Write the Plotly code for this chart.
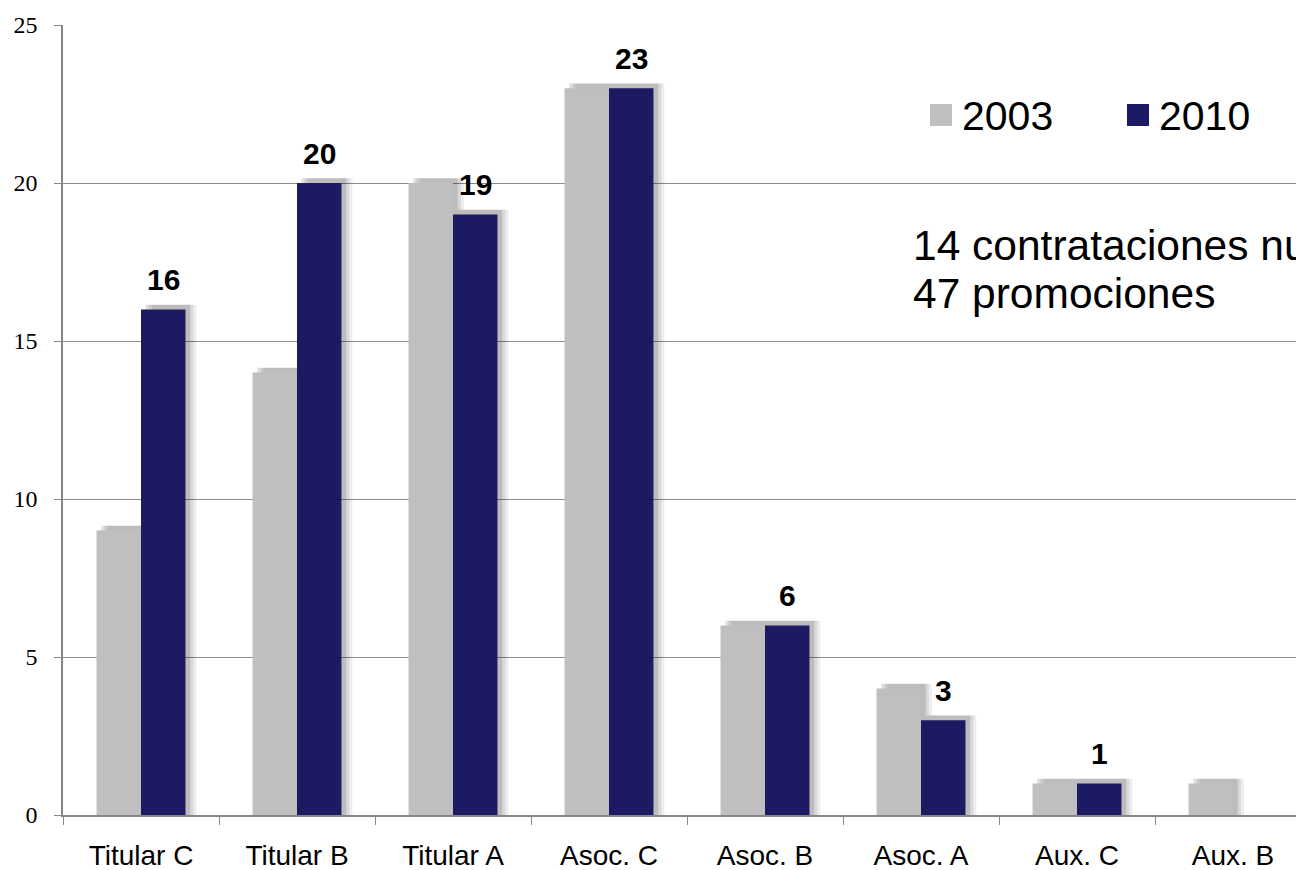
import plotly.graph_objects as go

categories = ["Titular C", "Titular B", "Titular A", "Asoc. C", "Asoc. B", "Asoc. A", "Aux. C", "Aux. B"]
values_2003 = [9, 14, 20, 23, 6, 4, 1, 1]
values_2010 = [16, 20, 19, 23, 6, 3, 1, 0]
y_ticks = [0, 5, 10, 15, 20, 25]
note_lines = ["14 contrataciones nuevas", "47 promociones"]

GRAY = "#BFBFBF"
NAVY = "#1C1A63"
W, H = 1296, 870
L, R, T, B = 63, 0, 25, 55
bw = 0.285

# pixel -> paper helpers for the free-floating items
def px(x):
    return (x - L) / (W - L - R)

def py(y):
    return (H - B - y) / (H - T - B)

fig = go.Figure()

# soft shadows behind the bars (stacked layers fake a blur)
for vals, off in [(values_2003, -bw), (values_2010, 0)]:
    for shift, alpha in [(0.07, 0.07), (0.05, 0.09), (0.03, 0.12)]:
        fig.add_trace(go.Bar(
            x=categories, y=[v + 0.15 if v > 0 else 0 for v in vals],
            width=bw, offset=off + shift, marker=dict(color=f"rgba(0,0,0,{alpha})", line_width=0),
            showlegend=False, hoverinfo="skip"))

fig.add_trace(go.Bar(x=categories, y=values_2003, name="2003", width=bw, offset=-bw,
                     marker=dict(color=GRAY, line_width=0)))
fig.add_trace(go.Bar(x=categories, y=values_2010, name="2010", width=bw, offset=0,
                     marker=dict(color=NAVY, line_width=0)))

# value labels above the 2010 bars
for i, (c, v) in enumerate(zip(categories, values_2010)):
    if v > 0:
        fig.add_annotation(x=i + bw / 2, y=v, text=str(v), showarrow=False, yanchor="middle", yshift=30,
                           font=dict(family="Liberation Sans, Arial", size=30, color="black", weight="bold"))

# legend drawn by hand to match the large squares
for (x0, col, lab) in [(930, GRAY, "2003"), (1127, NAVY, "2010")]:
    fig.add_shape(type="rect", xref="paper", yref="paper", x0=px(x0), x1=px(x0 + 22),
                  y0=py(126), y1=py(104), fillcolor=col, line_width=0)
    fig.add_annotation(xref="paper", yref="paper", x=px(x0 + 30), y=py(116), text=lab,
                       showarrow=False, xanchor="left", yanchor="middle",
                       font=dict(family="Liberation Sans, Arial", size=41, color="black"))

# side note, runs off the right edge as in the original slide
for ty, line in zip([245, 293], note_lines):
    fig.add_annotation(xref="paper", yref="paper", x=px(911), y=py(ty), text=line,
                       showarrow=False, xanchor="left", yanchor="middle",
                       font=dict(family="Liberation Sans, Arial", size=42.5, color="black"))

fig.update_layout(
    width=W, height=H, barmode="overlay",
    margin=dict(l=L, r=R, t=T, b=B, autoexpand=False),
    plot_bgcolor="white", paper_bgcolor="white", showlegend=False,
)
fig.update_xaxes(range=[-0.5, -0.5 + (W - L - R) / 156], showline=True, linecolor="#868686", linewidth=1.5,
                 ticks="outside", tickson="boundaries", ticklen=8, tickcolor="#868686",
                 tickfont=dict(family="Liberation Sans, Arial", size=28, color="black"),
                 ticklabelstandoff=15, showgrid=False, automargin=False)
fig.update_yaxes(range=[0, 25], tickvals=y_ticks, showline=True, linecolor="#868686", linewidth=1.5,
                 ticks="outside", ticklen=7, tickcolor="#868686", showgrid=True, gridcolor="#8C8C8C",
                 gridwidth=1, zeroline=False, automargin=False,
                 tickfont=dict(family="Liberation Serif, Times New Roman", size=24, color="black"),
                 ticklabelstandoff=12)

fig.write_html("out.html", config={"displayModeBar": False},
               post_script="document.body.style.margin='0px';")
